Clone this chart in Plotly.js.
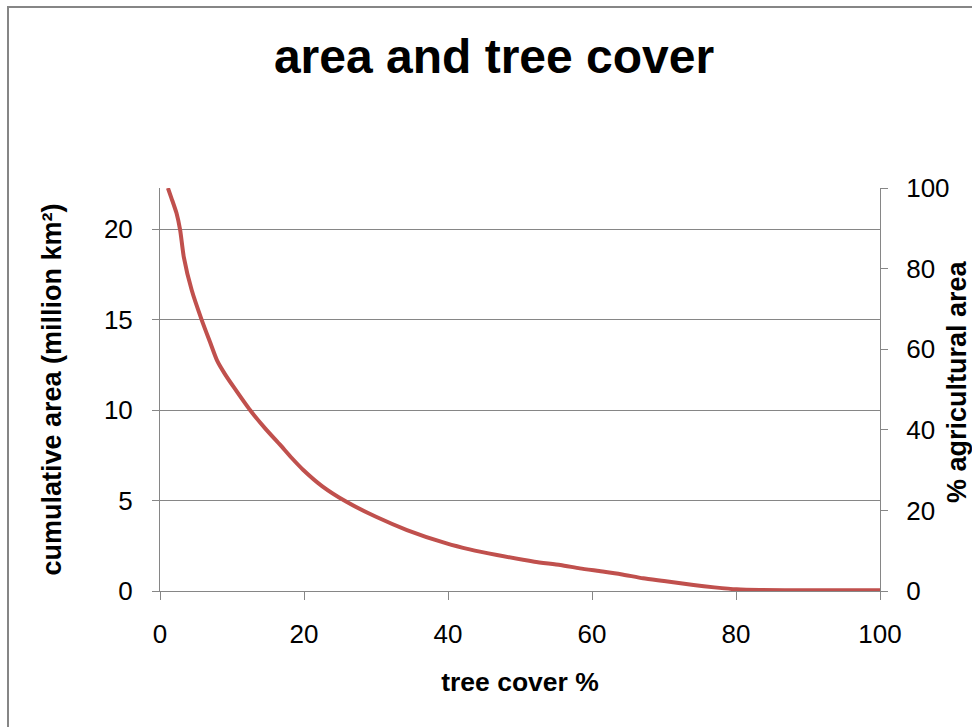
<!DOCTYPE html>
<html>
<head>
<meta charset="utf-8">
<script src="https://cdn.plot.ly/plotly-3.0.1.min.js"></script>
<style>
html,body{margin:0;padding:0;background:#fff;overflow:hidden;}
#chart{width:972px;height:727px;}
</style>
</head>
<body>
<div id="chart"></div>
<script>
// tree cover % (x) and cumulative area in million km² (y)
const treeCover = [1.1, 1.6, 2.3, 2.8, 3.3, 4.4, 5.8, 7.0, 7.9, 9.0, 10.2, 12.5, 14.6, 16.7, 18.3, 19.9, 22.5, 25.9, 30.0, 34.3, 39.8, 43.0, 46.8, 52.0, 55.6, 58.3, 61.0, 64.0, 67.1, 70.0, 74.1, 77.0, 80.1, 83.3, 90.0, 100];
const cumulativeArea = [22.27, 21.7, 20.87, 19.94, 18.47, 16.63, 14.97, 13.7, 12.76, 12.0, 11.29, 10.0, 8.99, 8.07, 7.35, 6.69, 5.8, 4.93, 4.1, 3.37, 2.63, 2.3, 1.99, 1.62, 1.44, 1.25, 1.1, 0.93, 0.70, 0.55, 0.33, 0.2, 0.09, 0.05, 0.04, 0.04];
const xTicks = [0, 20, 40, 60, 80, 100];
const yTicks = [0, 5, 10, 15, 20];
const y2Ticks = [0, 20, 40, 60, 80, 100];

const FONT = 'Liberation Sans, Arial, sans-serif';
const GRAY = '#868686';

const traces = [
  {
    x: treeCover, y: cumulativeArea, type: 'scatter', mode: 'lines',
    line: {color: '#C0504D', width: 4, shape: 'spline', smoothing: 0.6},
    showlegend: false, hoverinfo: 'x+y'
  },
  {
    x: [0, 100], y: [0, 100], type: 'scatter', mode: 'lines', yaxis: 'y2',
    line: {color: 'rgba(0,0,0,0)', width: 0}, showlegend: false, hoverinfo: 'skip'
  }
];

const layout = {
  width: 972, height: 727,
  margin: {l: 160, r: 92, t: 188, b: 136, pad: 0},
  paper_bgcolor: '#fff', plot_bgcolor: '#fff',
  font: {family: FONT, color: '#000', size: 26},
  title: {
    text: '<b>area and tree cover</b>',
    font: {family: FONT, size: 48, color: '#000'},
    x: 494/972, xanchor: 'center', xref: 'container',
    y: 1 - 56/727, yanchor: 'middle', yref: 'container'
  },
  xaxis: {
    range: [0, 100], tickvals: xTicks, ticktext: xTicks.map(String),
    showgrid: false, zeroline: false,
    showline: true, linecolor: GRAY, linewidth: 1,
    ticks: 'outside', ticklen: 8, tickcolor: GRAY, tickwidth: 1,
    tickfont: {size: 26, color: '#000'}, ticklabelstandoff: 12,
    title: {text: '<b>tree cover %</b>', font: {size: 26.5, color: '#000'}, standoff: 24},
    automargin: false, fixedrange: true
  },
  yaxis: {
    range: [0, 22.27], tickvals: yTicks, ticktext: yTicks.map(String),
    showgrid: true, gridcolor: GRAY, gridwidth: 1, zeroline: false,
    showline: true, linecolor: GRAY, linewidth: 1,
    ticks: 'outside', ticklen: 7, tickcolor: GRAY, tickwidth: 1,
    tickfont: {size: 26, color: '#000'}, ticklabelstandoff: 14,
    title: {text: '<b>cumulative area (million km²)</b>', font: {size: 27, color: '#000'}, standoff: 34},
    automargin: false, fixedrange: true
  },
  yaxis2: {
    overlaying: 'y', side: 'right', anchor: 'x',
    range: [0, 100], tickvals: y2Ticks, ticktext: y2Ticks.map(String),
    showgrid: false, zeroline: false,
    showline: true, linecolor: GRAY, linewidth: 1,
    ticks: 'outside', ticklen: 7, tickcolor: GRAY, tickwidth: 1,
    tickfont: {size: 26, color: '#000'}, ticklabelstandoff: 13,
    automargin: false, fixedrange: true
  },
  annotations: [
    {text: '<b>% agricultural area</b>', xref: 'paper', yref: 'paper',
     x: (940-160)/720, y: (591-382)/403, xanchor: 'left', yanchor: 'middle',
     textangle: -90, showarrow: false, font: {size: 27, color: '#000'}}
  ],
  shapes: [
    {type: 'rect', xref: 'paper', yref: 'paper',
     x0: (8-160)/720, x1: 1.5, y0: -1, y1: (591-7)/403,
     line: {color: GRAY, width: 2}, fillcolor: 'rgba(0,0,0,0)', layer: 'below'}
  ]
};

Plotly.newPlot('chart', traces, layout, {staticPlot: true, displayModeBar: false});
</script>
</body>
</html>
